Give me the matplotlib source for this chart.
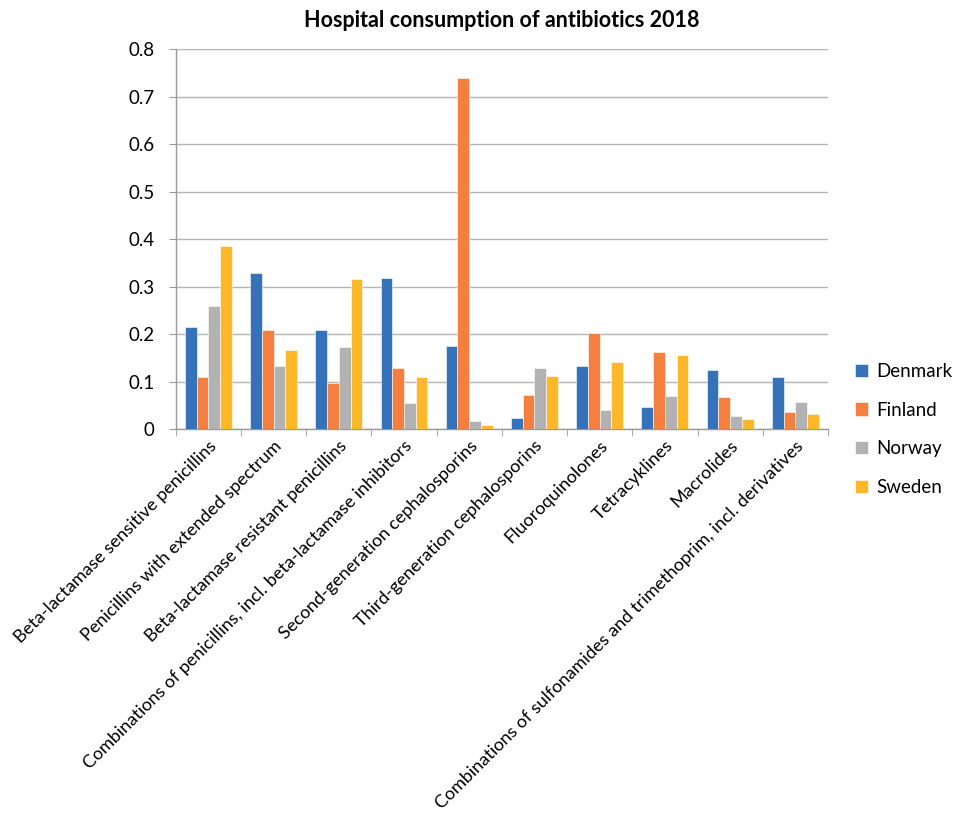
import matplotlib
matplotlib.use("Agg")
import matplotlib.pyplot as plt
import numpy as np

categories = [
    "Beta-lactamase sensitive penicillins",
    "Penicillins with extended spectrum",
    "Beta-lactamase resistant penicillins",
    "Combinations of penicillins, incl. beta-lactamase inhibitors",
    "Second-generation cephalosporins",
    "Third-generation cephalosporins",
    "Fluoroquinolones",
    "Tetracyklines",
    "Macrolides",
    "Combinations of sulfonamides and trimethoprim, incl. derivatives",
]
denmark = [0.216, 0.328, 0.208, 0.318, 0.175, 0.023, 0.133, 0.046, 0.124, 0.110]
finland = [0.110, 0.209, 0.097, 0.130, 0.740, 0.073, 0.203, 0.162, 0.067, 0.037]
norway  = [0.260, 0.133, 0.173, 0.055, 0.017, 0.130, 0.041, 0.070, 0.027, 0.057]
sweden  = [0.386, 0.166, 0.316, 0.110, 0.009, 0.112, 0.142, 0.157, 0.022, 0.033]
series_names = ["Denmark", "Finland", "Norway", "Sweden"]
colors = ["#3572b9", "#f47f3f", "#b2b2b2", "#fdb829"]
yticks = [0, 0.1, 0.2, 0.3, 0.4, 0.5, 0.6, 0.7, 0.8]
ytick_labels = ["0", "0.1", "0.2", "0.3", "0.4", "0.5", "0.6", "0.7", "0.8"]

plt.rcParams['font.family'] = ['Lato', 'DejaVu Sans']

fig = plt.figure(figsize=(9.6, 8.14), dpi=100)
ax = fig.add_axes([0.183, 0.4726, 0.6795, 0.4672])

x = np.arange(len(categories))
bw = 0.18
data = [denmark, finland, norway, sweden]
for i, (vals, name, c) in enumerate(zip(data, series_names, colors)):
    ax.bar(x + (i - 1.5) * bw, vals, width=bw, color=c, label=name,
           edgecolor='white', linewidth=0.4, zorder=3)

ax.set_xlim(-0.5, len(categories) - 0.5)
ax.set_ylim(0, 0.8)
ax.set_yticks(yticks)
ax.set_yticklabels(ytick_labels, fontsize=13.5)
ax.yaxis.grid(True, color='#b4b4b4', linewidth=1.0, zorder=0)
ax.tick_params(axis='y', length=5, color='#999999', pad=10)

ax.set_xticks(x)
ax.set_xticklabels(categories, rotation=45, ha='right', rotation_mode='anchor', fontsize=13)
ax.set_xticks(np.arange(-0.5, len(categories)), minor=True)
ax.tick_params(axis='x', which='major', length=0, pad=6)
ax.tick_params(axis='x', which='minor', length=5, color='#999999')

for s in ['top', 'right']:
    ax.spines[s].set_visible(False)
for s in ['left', 'bottom']:
    ax.spines[s].set_color('#999999')
    ax.spines[s].set_linewidth(1.0)

ax.set_title("Hospital consumption of antibiotics 2018", fontsize=15.5,
             fontweight='bold', pad=16)

leg = ax.legend(loc='center left', bbox_to_anchor=(1.015, 0.0), frameon=False,
                fontsize=13.5, handlelength=0.7, handleheight=0.7,
                handletextpad=0.45, labelspacing=1.15)

fig.savefig("out.png", dpi=100)
